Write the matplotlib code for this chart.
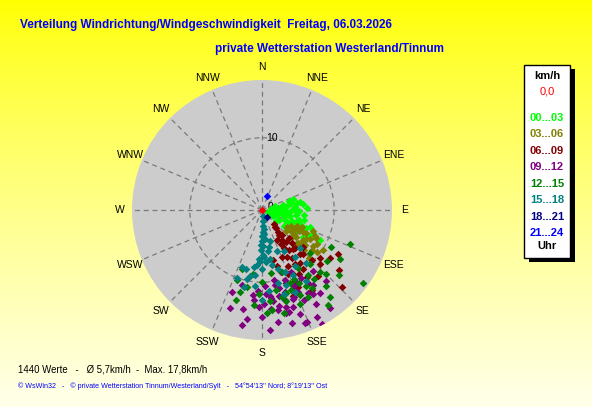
import numpy as np
import matplotlib
matplotlib.use("Agg")
import matplotlib.pyplot as plt
from matplotlib.patches import Rectangle

plt.rcParams['font.family'] = ['Liberation Sans', 'DejaVu Sans']

W, H = 592, 407

# --- data: (bearing in degrees, speed in km/h) per hour class ---
calm_dir = [0]
calm_spd = [0.0]

g00_dir = [72, 76, 78, 80, 82, 84, 86, 88, 90, 92, 94, 96, 98, 100, 101, 103, 105, 106, 108, 110,
           111, 113, 115, 116, 118, 120, 122, 117, 119, 124, 112, 104, 95, 85, 118, 125, 128, 107, 99, 90,
           82, 88, 77, 93, 114, 70, 74, 97, 102, 109, 121, 126, 91, 87, 83, 79, 110, 115, 106, 100]
g00_spd = [3.9, 4.1, 5.4, 2.8, 3.5, 4.6, 1.9, 3.0, 4.2, 5.1, 2.4, 3.6, 4.8, 1.5, 2.9, 4.0, 5.3, 3.2, 2.2, 4.4,
           5.8, 3.5, 1.2, 6.3, 4.9, 2.7, 5.6, 9.0, 7.4, 6.8, 6.6, 6.0, 1.0, 1.3, 1.8, 3.8, 2.5, 0.8, 3.3, 2.2,
           5.8, 6.2, 3.0, 4.9, 7.8, 4.6, 1.9, 5.9, 2.0, 5.0, 4.3, 5.2, 3.1, 4.4, 2.3, 4.9, 7.0, 4.1, 1.6, 3.7]

g03_dir = [112, 123, 118, 121, 125, 128, 130, 115, 119, 126, 132, 122, 127, 116, 134, 124, 120, 129, 131, 117,
           135, 113, 126, 136, 121, 129, 133, 124, 118, 127]
g03_spd = [7.6, 10.1, 6.5, 7.8, 8.6, 6.0, 7.2, 5.4, 4.6, 5.0, 5.6, 9.0, 9.6, 8.2, 8.0, 4.2, 5.9, 8.9, 4.4, 6.9,
           6.6, 6.0, 7.0, 9.3, 5.2, 7.6, 6.8, 7.3, 8.4, 5.6]

g06_dir = [140, 142, 145, 141, 147, 143, 150, 146, 139, 152, 148, 137, 155, 144, 158, 135, 150, 162, 130, 146,
           140, 155, 120, 134, 128, 165, 168, 160, 138, 153, 133, 125, 148, 157, 136, 143, 151, 147, 139, 154,
           142, 149, 156, 132, 145]
g06_spd = [2.5, 3.2, 3.8, 4.5, 5.0, 5.6, 6.0, 6.6, 7.0, 7.3, 7.9, 8.4, 8.6, 9.0, 9.5, 9.8, 10.2, 10.6, 10.4, 11.2,
           12.0, 11.8, 12.1, 15.4, 13.5, 8.0, 7.1, 12.6, 6.2, 4.6, 11.0, 11.5, 13.0, 7.0, 5.3, 3.0, 5.4, 4.2, 8.0, 9.9,
           6.9, 8.8, 10.9, 7.6, 10.0]

g09_dir = [190, 158, 152, 198, 191, 200, 175, 170, 165, 160, 155, 150, 180, 185, 168, 162, 172, 148, 145, 178,
           183, 157, 166, 175, 160, 140, 138, 188, 195, 155, 163, 170, 150, 176, 145, 165, 159, 153, 167, 173,
           161, 169, 156, 182, 177, 164, 151, 186, 171, 146, 158, 166, 174, 162, 154, 170, 179, 149]
g09_spd = [16.2, 16.8, 17.8, 14.2, 13.9, 12.1, 12.0, 13.5, 14.6, 12.8, 13.8, 15.0, 14.8, 12.5, 11.0, 10.2, 15.6, 12.0, 14.0, 10.5,
           11.3, 11.5, 12.9, 13.7, 15.3, 11.0, 13.2, 15.2, 10.8, 9.5, 9.0, 9.8, 10.8, 16.6, 16.5, 16.2, 16.8, 16.7, 14.7, 12.7,
           13.1, 12.2, 12.4, 13.4, 11.6, 11.8, 13.2, 11.9, 14.0, 12.6, 12.0, 13.8, 12.3, 14.1, 11.2, 10.6, 13.0, 13.6]

g12_dir = [111, 126, 177, 199, 191, 130, 135, 140, 145, 150, 155, 160, 165, 170, 175, 180, 185, 195, 158, 148,
           138, 128, 122, 118, 162, 172, 152, 142, 168, 188, 132, 145, 196, 200, 156, 164, 174, 147, 137, 153,
           159, 167, 182, 143]
g12_spd = [13.0, 17.3, 14.3, 8.7, 10.9, 14.0, 12.5, 13.8, 11.0, 12.2, 10.5, 11.8, 13.0, 11.2, 12.6, 10.0, 13.2, 11.8, 14.0, 9.5,
           10.0, 11.5, 12.8, 10.8, 9.0, 8.8, 13.6, 15.2, 14.6, 9.0, 9.0, 16.0, 13.0, 10.3, 12.9, 12.0, 13.9, 12.8, 11.7, 11.4,
           10.9, 12.4, 11.6, 12.0]

g15_dir = [175, 176, 178, 177, 179, 180, 178, 181, 179, 183, 176, 185, 172, 174, 173, 180, 188, 195, 199, 190,
           170, 165, 160, 155, 150, 145, 168, 175, 185, 200, 158, 148, 140, 180, 165, 135, 193, 152, 160, 165,
           177, 182, 171, 186, 192, 162, 174, 181, 169]
g15_spd = [0.8, 1.5, 2.2, 3.0, 3.6, 4.3, 5.0, 5.6, 6.2, 6.8, 7.2, 7.6, 5.8, 4.0, 2.6, 8.2, 8.0, 8.5, 8.4, 9.3,
           7.8, 8.5, 9.2, 10.0, 9.0, 8.0, 10.4, 11.2, 10.5, 10.0, 12.3, 11.6, 9.5, 12.4, 12.0, 7.5, 11.0, 6.5, 6.0, 4.5,
           6.5, 7.0, 6.8, 9.0, 9.8, 10.9, 3.3, 4.8, 5.2]

g18_dir = [144]
g18_spd = [1.2]

g21_dir = [20]
g21_spd = [2.0]

classes = ['00...03', '03...06', '06...09', '09...12', '12...15', '15...18', '18...21', '21...24']
class_colors = ['#00FF00', '#808000', '#800000', '#800080', '#008000', '#008080', '#000080', '#0000FF']
series = [(g00_dir, g00_spd), (g03_dir, g03_spd), (g06_dir, g06_spd), (g09_dir, g09_spd),
          (g12_dir, g12_spd), (g15_dir, g15_spd), (g18_dir, g18_spd), (g21_dir, g21_spd)]

compass = ['N', 'NNE', 'NE', 'ENE', 'E', 'ESE', 'SE', 'SSE',
           'S', 'SSW', 'SW', 'WSW', 'W', 'WNW', 'NW', 'NNW']


def fx(px):
    return px / W


def fy(py):
    # pixel from top -> figure fraction from bottom
    return 1 - py / H


fig = plt.figure(figsize=(W / 100, H / 100), dpi=100)

# yellow gradient background
bg = fig.add_axes([0, 0, 1, 1], zorder=-10)
grad = np.linspace(0, 1, 256) ** 0.8
rgb = np.ones((256, 1, 3))
rgb[:, 0, 2] = grad * 0.92
bg.imshow(rgb, aspect='auto', extent=[0, 1, 0, 1])
bg.set_axis_off()

# polar plot: centre (262,210), radius 130 px
cx, cy, R = 262, 210, 130
ax = fig.add_axes([fx(cx - R), fy(cy + R), 2 * R / W, 2 * R / H], polar=True)
ax.set_theta_zero_location('N')
ax.set_theta_direction(-1)
ax.set_facecolor('#CCCCCC')
ax.spines['polar'].set_visible(False)
ax.set_ylim(0, 18)
ax.set_xticks(np.radians(np.arange(0, 360, 22.5)))
ax.set_xticklabels([])
ax.set_yticks([10])
ax.set_yticklabels([])
ax.grid(True, color='#7A7A7A', linestyle=(0, (4, 3)), linewidth=0.9)

for i, lab in enumerate(compass):
    ax.text(np.radians(i * 22.5), 19.75, lab, ha='center', va='center',
            fontsize=7.5, color='black', clip_on=False)

ax.annotate('10', xy=(0, 10), xytext=(3, 0), textcoords='offset points',
            ha='left', va='center', fontsize=7.5)
ax.annotate('0', xy=(0, 0), xytext=(4, 2), textcoords='offset points',
            ha='left', va='center', fontsize=7.5)

for (d, s), c in zip(series, class_colors):
    ax.scatter(np.radians(d), s, marker='D', s=15, color=c, linewidths=0, zorder=3)
ax.scatter(np.radians(calm_dir), calm_spd, marker='D', s=15, color='#FF0000', linewidths=0, zorder=4)

# titles
fig.text(fx(20), fy(25), 'Verteilung Windrichtung/Windgeschwindigkeit  Freitag, 06.03.2026',
         color='#0000FF', fontsize=8.5, fontweight='bold', ha='left', va='center')
fig.text(fx(215), fy(49), 'private Wetterstation Westerland/Tinnum',
         color='#0000FF', fontsize=8.5, fontweight='bold', ha='left', va='center')

# legend box with shadow
bx0, by0, bx1, by1 = 524, 65, 570, 258
fig.patches.append(Rectangle((fx(bx0 + 5), fy(by1 + 4)), fx(bx1 - bx0), (by1 - by0) / H,
                             transform=fig.transFigure, facecolor='black', edgecolor='none'))
fig.patches.append(Rectangle((fx(bx0), fy(by1)), fx(bx1 - bx0), (by1 - by0) / H,
                             transform=fig.transFigure, facecolor='white', edgecolor='black', linewidth=1))
lx = 547
fig.text(fx(lx), fy(76), 'km/h', ha='center', va='center', fontsize=8, fontweight='bold')
fig.text(fx(lx), fy(92), '0,0', ha='center', va='center', fontsize=8, color='#FF0000')
for i, (lab, c) in enumerate(zip(classes, class_colors)):
    fig.text(fx(lx), fy(118 + i * 16.45), lab, ha='center', va='center', fontsize=8,
             fontweight='bold', color=c)
fig.text(fx(lx), fy(246), 'Uhr', ha='center', va='center', fontsize=8, fontweight='bold')

# footer
fig.text(fx(18), fy(370), '1440 Werte   -   Ø 5,7km/h  -  Max. 17,8km/h',
         ha='left', va='center', fontsize=6.9, color='black')
fig.text(fx(18), fy(386), "© WsWin32   -   © private Wetterstation Tinnum/Westerland/Sylt   -   54°54'13'' Nord; 8°19'13'' Ost",
         ha='left', va='center', fontsize=5.15, color='#0000FF')

fig.savefig('out.png', dpi=100)
